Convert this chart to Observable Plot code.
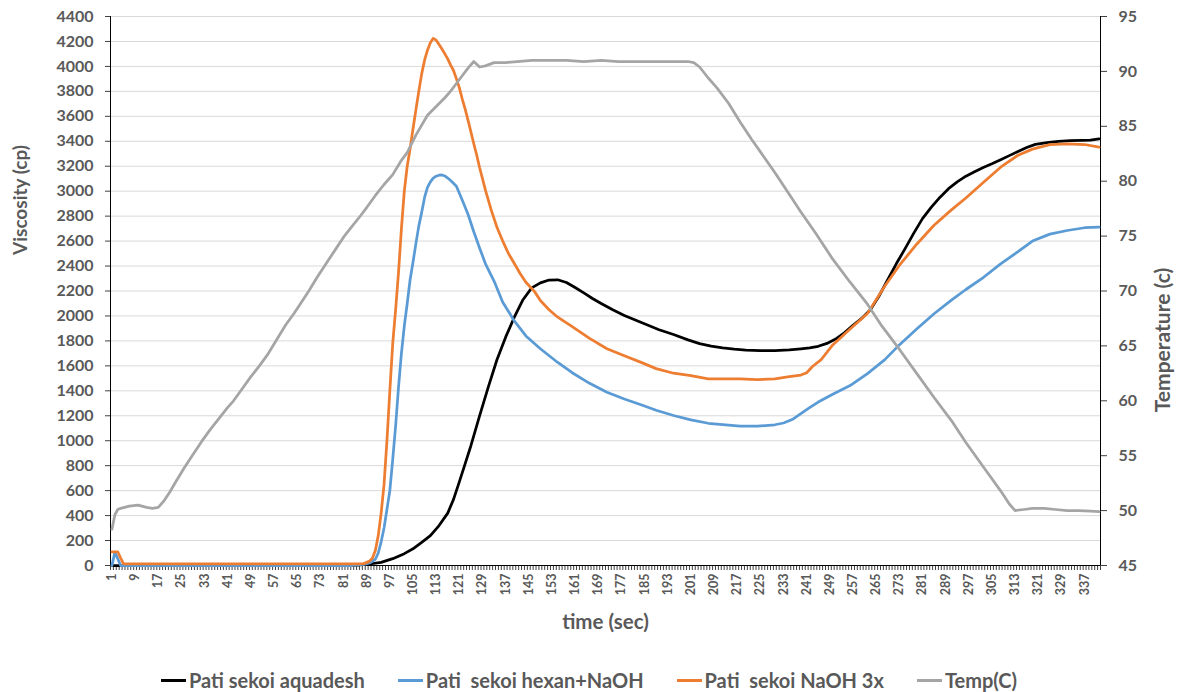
<!DOCTYPE html>
<html>
<head>
<meta charset="utf-8">
<script src="https://cdn.jsdelivr.net/npm/d3@7"></script>
<script src="https://cdn.jsdelivr.net/npm/@observablehq/plot@0.6"></script>
<style>
  html, body { margin: 0; padding: 0; background: #fff; }
  #wrap { position: relative; width: 1178px; height: 692px; overflow: hidden; font-family: Lato, "Open Sans", sans-serif; }
  #legend { position: absolute; left: 0; top: 669px; height: 22px; line-height: 20px; width: 1178px; display: flex; justify-content: center; align-items: center; gap: 33px; font-size: 20px; font-weight: bold; color: #595959; }
  .item { display: flex; align-items: center; white-space: pre; }
  .sw { display: inline-block; width: 25px; height: 3px; margin-right: 3px; }
</style>
</head>
<body>
<div id="wrap"><div id="chart"></div><div id="legend"></div></div>
<script>
// ---- data (time in sec) ----
const seriesNames = ["Pati sekoi aquadesh", "Pati  sekoi hexan+NaOH", "Pati  sekoi NaOH 3x", "Temp(C)"];
const seriesColors = ["#000000", "#5B9BD5", "#ED7D31", "#A5A5A5"];

const aquadeshTime = [1,80,86,90,94,98,102,105,108,111,114,117,119,121,123,125,128,131,134,137,140,143,146,149,152,155,158,161,164,167,170,174,178,182,186,190,195,200,204,208,212,216,220,225,230,235,239,242,245,248,251,254,257,260,263,266,269,272,275,278,281,284,287,290,293,296,299,302,305,308,311,314,317,320,324,328,332,336,339,342];
const aquadeshVisc = [0,0,3,12,25,55,95,134,185,240,320,420,530,670,815,960,1200,1430,1649,1830,1990,2130,2225,2265,2288,2290,2268,2228,2185,2140,2100,2050,2004,1965,1928,1890,1851,1808,1778,1758,1744,1734,1727,1723,1723,1728,1737,1745,1757,1780,1815,1865,1925,1980,2050,2160,2290,2420,2540,2664,2780,2870,2950,3020,3075,3120,3155,3190,3220,3252,3285,3318,3350,3375,3390,3400,3405,3407,3410,3420];

const hexanTime = [1,2,3,4,84,88,90,92,93,94,95,96,97,98,99,100,101,102,103,104,105,106,107,108,109,110,111,112,113,114,115,116,117,118,120,122,124,126,128,130,133,136,140,144,149,155,160,166,172,178,184,189,195,201,207,212,218,224,230,233,236,239,242,245,250,256,262,268,273,279,285,291,296,302,308,314,319,325,331,337,342];
const hexanVisc = [0,105,55,0,0,8,20,50,100,190,300,450,600,850,1120,1430,1700,1920,2100,2290,2430,2580,2720,2830,2950,3030,3075,3105,3120,3128,3130,3122,3105,3085,3040,2930,2815,2675,2545,2420,2280,2110,1960,1840,1737,1627,1545,1460,1389,1334,1286,1244,1202,1167,1140,1129,1117,1117,1128,1142,1170,1218,1265,1310,1373,1442,1538,1650,1768,1895,2018,2127,2212,2308,2418,2515,2600,2656,2685,2707,2712];

const naohTime = [1,3,4,5,86,88,90,91,92,93,94,95,96,97,98,99,100,101,102,103,104,105,106,107,108,109,110,111,112,113,114,115,116,117,118,119,120,121,122,123,124,125,126,127,128,129,130,131,132,134,136,138,140,142,144,147,149,152,155,160,166,172,178,184,189,195,201,207,212,218,224,230,235,239,241,243,246,250,256,262,268,273,279,285,291,296,302,308,314,319,325,331,337,342];
const naohVisc = [110,110,60,13,13,15,35,60,120,240,420,650,1000,1400,1780,2050,2350,2700,3000,3200,3340,3500,3650,3800,3940,4050,4130,4190,4225,4210,4175,4140,4100,4060,4010,3967,3900,3830,3740,3660,3570,3475,3380,3290,3190,3100,3010,2930,2850,2711,2600,2500,2420,2340,2270,2195,2124,2050,1990,1915,1820,1737,1681,1626,1578,1541,1521,1496,1495,1495,1490,1496,1513,1526,1545,1595,1650,1768,1895,2020,2240,2405,2575,2727,2850,2945,3070,3192,3288,3337,3373,3380,3374,3353];

const tempTime = [1,2,3,4,7,10,13,15,17,19,21,23,26,29,32,35,38,41,43,46,49,52,55,58,61,64,66,69,72,75,78,81,84,87,89,92,95,98,101,103,106,110,113,116,118,120,122,124,126,128,130,133,137,141,146,152,158,164,170,176,182,188,194,200,202,204,207,210,214,218,222,226,230,234,239,244,250,256,262,267,273,279,285,291,296,302,308,311,313,316,319,323,327,331,335,339,342];
const tempC = [48.3,49.6,50.1,50.2,50.4,50.5,50.3,50.2,50.3,50.9,51.7,52.6,53.9,55.1,56.3,57.4,58.4,59.4,60.0,61.1,62.2,63.2,64.3,65.6,66.9,68.0,68.8,70.0,71.3,72.5,73.7,74.9,75.9,76.9,77.6,78.7,79.7,80.6,81.9,82.6,84.2,86.0,86.8,87.6,88.2,88.9,89.6,90.3,90.9,90.4,90.5,90.8,90.8,90.9,91.0,91.0,91.0,90.9,91.0,90.9,90.9,90.9,90.9,90.9,90.8,90.4,89.4,88.5,87.1,85.4,83.8,82.3,80.8,79.2,77.2,75.3,72.9,70.8,68.8,66.8,64.7,62.5,60.3,58.2,56.2,54.0,51.8,50.6,50.0,50.1,50.2,50.2,50.1,50.0,50.0,49.95,49.9];

const viscTicks = d3.range(0, 4401, 200);
const tempTicks = d3.range(45, 96, 5);
const timeLabels = d3.range(1, 343, 8);
const nCategories = 342;
const tempMin = 45, tempMax = 95, viscMax = 4400;

// ---- helpers ----
const tToV = t => (t - tempMin) / (tempMax - tempMin) * viscMax;
const vToT = v => String(Math.round(v / viscMax * (tempMax - tempMin) + tempMin));
const mk = (times, vals, name) => times.map((t, i) => ({time: t, value: vals[i], series: name}));

const data = [
  mk(aquadeshTime, aquadeshVisc, seriesNames[0]),
  mk(hexanTime, hexanVisc, seriesNames[1]),
  mk(naohTime, naohVisc, seriesNames[2]),
  mk(tempTime, tempC.map(tToV), seriesNames[3])
];

const boundaries = d3.range(0.5, nCategories + 1, 1);

const chart = Plot.plot({
  width: 1178,
  height: 650,
  marginTop: 16,
  marginBottom: 85,
  marginLeft: 110,
  marginRight: 78,
  style: {fontFamily: "Lato, 'Open Sans', sans-serif", fontWeight: "bold", color: "#595959", background: "#fff"},
  x: {domain: [0.5, nCategories + 0.5]},
  y: {domain: [0, viscMax]},
  marks: [
    Plot.gridY(viscTicks, {stroke: "#d9d9d9", strokeOpacity: 1, strokeWidth: 1}),
    Plot.axisY({anchor: "left", ticks: viscTicks, tickFormat: d => String(d), tickSize: 5, tickPadding: 12, label: null, fontSize: 16, fill: "#595959", stroke: "#404040"}),
    Plot.axisY({anchor: "right", ticks: tempTicks.map(tToV), tickFormat: vToT, tickSize: 6, tickPadding: 12, label: null, fontSize: 16, fill: "#595959", stroke: "#404040"}),
    Plot.axisX({ticks: boundaries, tickSize: 5, tickFormat: () => "", label: null, stroke: "#404040"}),
    Plot.axisX({ticks: timeLabels, tickFormat: d => String(d), tickSize: 0, tickPadding: 8, tickRotate: -90, label: null, fontSize: 12.5, fill: "#595959"}),
    Plot.ruleY([0], {stroke: "#000", strokeWidth: 1}),
    Plot.ruleX([0.5, nCategories + 0.5], {stroke: "#000", strokeWidth: 1}),
    ...data.map((d, i) => Plot.line(d, {x: "time", y: "value", stroke: seriesColors[i], strokeWidth: 2.75, strokeLinejoin: "round", strokeLinecap: "round"})),
    Plot.text(["Viscosity (cp)"], {frameAnchor: "left", textAnchor: "middle", lineAnchor: "middle", rotate: -90, dx: -90, dy: -91, fontSize: 19, fill: "#595959"}),
    Plot.text(["Temperature (c)"], {frameAnchor: "right", textAnchor: "middle", lineAnchor: "middle", rotate: -90, dx: 63, dy: 49, fontSize: 21, fill: "#595959"}),
    Plot.text(["time (sec)"], {frameAnchor: "bottom", textAnchor: "middle", lineAnchor: "middle", dy: 57, fontSize: 20.5, fill: "#595959"})
  ]
});
document.getElementById("chart").appendChild(chart);

const legend = document.getElementById("legend");
seriesNames.forEach((n, i) => {
  const it = document.createElement("div");
  it.className = "item";
  const sw = document.createElement("span");
  sw.className = "sw";
  sw.style.background = seriesColors[i];
  const tx = document.createElement("span");
  tx.textContent = n;
  it.appendChild(sw); it.appendChild(tx);
  legend.appendChild(it);
});
</script>
</body>
</html>
